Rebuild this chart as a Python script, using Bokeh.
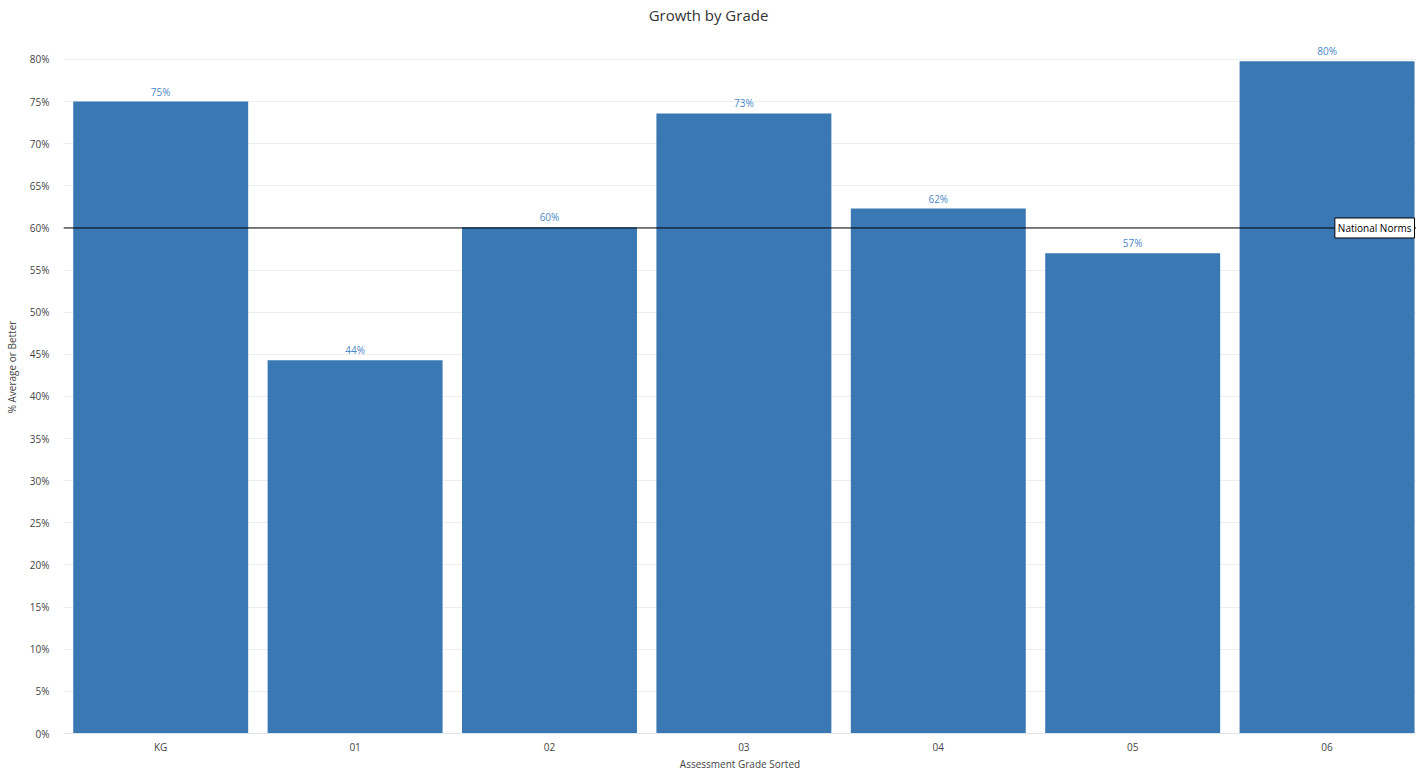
from bokeh.plotting import figure
from bokeh.models import ColumnDataSource, Span, Label, FixedTicker, PrintfTickFormatter, Range1d
from bokeh.core.properties import value
from bokeh.embed import file_html
from bokeh.resources import INLINE

grades = ["KG", "01", "02", "03", "04", "05", "06"]
pct = [75.0, 44.3, 60.1, 73.6, 62.3, 57.0, 79.8]
labels = ["75%", "44%", "60%", "73%", "62%", "57%", "80%"]
norm = 60.0
y_ticks = list(range(0, 85, 5))

FONT = "Open Sans"
pos = [i + 0.5 for i in range(len(grades))]
src = ColumnDataSource(dict(x=pos, g=grades, v=pct, lab=labels))

# frame spans full height above the x axis; top 42px hold the title
p = figure(x_range=Range1d(0, 6.96), y_range=Range1d(0, 87.0),
           width=1416, height=773, output_backend="svg", toolbar_location=None,
           min_border_left=63, min_border_right=0, min_border_bottom=40, min_border_top=0)
p.outline_line_color = None
p.background_fill_color = "white"

p.vbar(x="x", top="v", width=0.9, source=src, fill_color="#3a78b4", line_color=None)
p.text(x="x", y="v", text="lab", source=src, text_align="center", text_baseline="bottom",
       y_offset=-3, text_font=value(FONT), text_font_size="10px", text_color="#4a88c8")

p.add_layout(Span(location=norm, dimension="width", line_color="black", line_width=1))
p.add_layout(Label(x=6.54, y=norm, text="National Norms", text_baseline="middle",
                   text_font=FONT, text_font_size="10px", text_color="black",
                   border_line_color="black", border_line_width=1,
                   background_fill_color="white", padding=3))

p.add_layout(Label(x=645, y=719, x_units="screen", y_units="screen", text="Growth by Grade",
                   text_align="center", text_baseline="middle", text_font=FONT,
                   text_font_size="15px", text_color="#333333"))

p.yaxis.ticker = FixedTicker(ticks=y_ticks)
p.yaxis.formatter = PrintfTickFormatter(format="%d%%")
p.yaxis.axis_line_color = None
p.yaxis.major_tick_line_color = None
p.yaxis.minor_tick_line_color = None
p.yaxis.axis_label = "% Average or Better"
p.xaxis.ticker = FixedTicker(ticks=pos)
p.xaxis.major_label_overrides = {x: g for x, g in zip(pos, grades)}
p.xaxis.axis_label = "Assessment Grade Sorted"
p.xaxis.axis_line_color = "#dde3ea"
p.xaxis.major_tick_line_color = None
p.xaxis.minor_tick_line_color = None
for ax in (p.xaxis, p.yaxis):
    ax.major_label_text_font = FONT
    ax.major_label_text_font_size = "10px"
    ax.major_label_text_color = "#444444"
    ax.axis_label_text_font = FONT
    ax.axis_label_text_font_size = "10px"
    ax.axis_label_text_font_style = "normal"
    ax.axis_label_text_color = "#444444"
p.yaxis.major_label_standoff = 8
p.xaxis.major_label_standoff = 0
p.xaxis.axis_label_standoff = 0
p.yaxis.axis_label_standoff = 8

p.xgrid.grid_line_color = None
p.ygrid.grid_line_color = "#eeeeee"
p.ygrid.ticker = FixedTicker(ticks=y_ticks)

open("out.html", "w").write(file_html(p, INLINE))
